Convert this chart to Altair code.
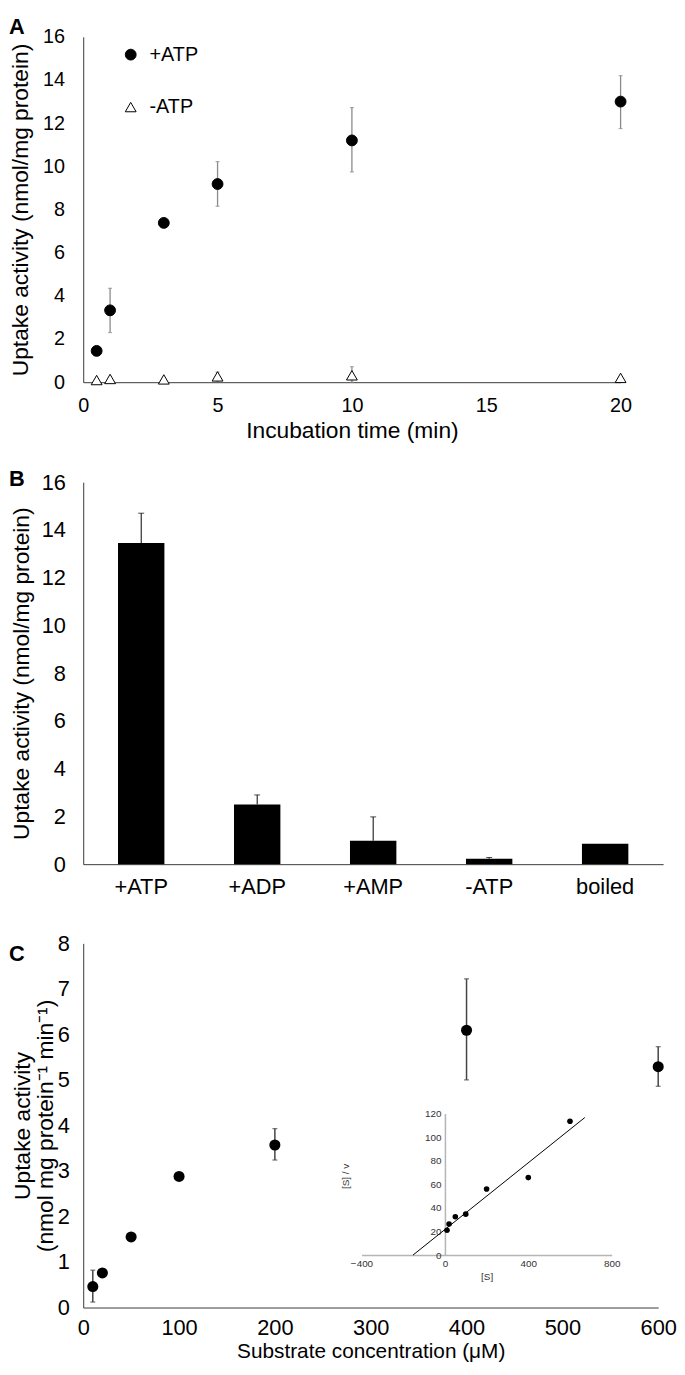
import altair as alt
import pandas as pd

FONT = "Liberation Sans"

# ---------------- Panel A data ----------------
time_min = [0.5, 1, 3, 5, 10, 20]
atp_plus = [1.45, 3.33, 7.38, 9.18, 11.2, 13.0]
atp_minus = [0.1, 0.15, 0.13, 0.27, 0.32, 0.2]
a_err_time = [1, 5, 10, 20, 5, 10]
a_err_low = [2.3, 8.15, 9.74, 11.75, 0.05, 0.0]
a_err_high = [4.35, 10.22, 12.72, 14.2, 0.47, 0.72]
a_series = ["+ATP", "-ATP"]

# ---------------- Panel B data ----------------
b_conditions = ["+ATP", "+ADP", "+AMP", "-ATP", "boiled"]
b_values = [13.45, 2.5, 0.98, 0.23, 0.86]
b_err_cond = ["+ATP", "+ADP", "+AMP", "-ATP"]
b_err_base = [13.45, 2.5, 0.98, 0.23]
b_err_top = [14.7, 2.9, 1.98, 0.28]

# ---------------- Panel C data ----------------
c_conc = [10, 20, 50, 100, 200, 400, 600]
c_rate = [0.46, 0.76, 1.55, 2.88, 3.57, 6.09, 5.29]
c_err_conc = [10, 200, 400, 600]
c_err_low = [0.12, 3.24, 5.0, 4.86]
c_err_high = [0.82, 3.93, 7.22, 5.73]

# Inset (Hanes-Woolf plot)
hw_s = [10, 20, 50, 100, 200, 400, 600]
hw_sv = [21.0, 26.3, 32.5, 34.7, 56.0, 65.7, 113.5]
fit_s = [-153, 671]
fit_sv = [0, 116.6]

panel_letters = ["A", "B", "C"]

AXC = "#3a3a3a"


def letter_layer(letter, ypos):
    return alt.Chart(pd.DataFrame({"letter": [letter]})).mark_text(
        align="left", baseline="top", fontSize=22, fontWeight="bold", color="black"
    ).encode(x=alt.value(-75), y=alt.value(ypos), text="letter:N")


# ================= Panel A =================
dfA = pd.DataFrame({
    "t": time_min * 2,
    "v": atp_plus + atp_minus,
    "series": [a_series[0]] * len(time_min) + [a_series[1]] * len(time_min),
})
dfAerr = pd.DataFrame({"t": a_err_time, "lo": a_err_low, "hi": a_err_high})

xA_scale = alt.Scale(domain=[0, 20], nice=False, zero=False)
yA_scale = alt.Scale(domain=[0, 16], nice=False)
xA_axis = alt.Axis(values=[0, 5, 10, 15, 20], title="Incubation time (min)", ticks=False,
                   grid=False, labelFontSize=20, titleFontSize=23, titleFontWeight="normal",
                   labelPadding=14, titlePadding=4, domainColor=AXC, labelColor="black",
                   titleColor="black", labelFlush=False)
yA_axis = alt.Axis(values=list(range(0, 17, 2)), title="Uptake activity (nmol/mg protein)",
                   ticks=False, grid=False, labelFontSize=20, titleFontSize=23,
                   titleFontWeight="normal", labelPadding=19, titlePadding=10,
                   domainColor=AXC, labelColor="black", titleColor="black", labelFlush=False)
xA = alt.X("t:Q", scale=xA_scale, axis=xA_axis)

errA = alt.Chart(dfAerr).mark_rule(color="#8a8a8a", strokeWidth=1.3).encode(
    x=xA, y=alt.Y("lo:Q", scale=yA_scale, axis=yA_axis), y2="hi:Q",
)
capA_lo = alt.Chart(dfAerr).mark_tick(color="#8a8a8a", orient="horizontal", size=4, thickness=1.2).encode(
    x=xA, y=alt.Y("lo:Q", scale=yA_scale, axis=yA_axis),
)
capA_hi = alt.Chart(dfAerr).mark_tick(color="#8a8a8a", orient="horizontal", size=4, thickness=1.2).encode(
    x=xA, y=alt.Y("hi:Q", scale=yA_scale, axis=yA_axis),
)
legA = alt.Legend(title=None, orient="none", legendX=38, legendY=8, labelFontSize=20,
                  rowPadding=33, labelOffset=9, symbolSize=120,
                  symbolStrokeWidth=1, padding=0, labelColor="black")
ptsA = alt.Chart(dfA).mark_point(filled=True, strokeWidth=1, opacity=1, size=120).encode(
    x=xA,
    y=alt.Y("v:Q", scale=yA_scale, axis=yA_axis),
    shape=alt.Shape("series:N", scale=alt.Scale(domain=a_series, range=["circle", "triangle-up"]), legend=legA),
    fill=alt.Fill("series:N", scale=alt.Scale(domain=a_series, range=["black", "white"]), legend=legA),
    stroke=alt.Stroke("series:N", scale=alt.Scale(domain=a_series, range=["black", "black"]), legend=legA),
)
chartA = alt.layer(errA, capA_lo, capA_hi, ptsA, letter_layer(panel_letters[0], -20)).properties(
    width=543, height=349,
)

# ================= Panel B =================
dfB = pd.DataFrame({"cond": b_conditions, "val": b_values})
dfBerr = pd.DataFrame({"cond": b_err_cond, "base": b_err_base, "top": b_err_top})
xB_scale = alt.Scale(domain=b_conditions, paddingInner=0.6, paddingOuter=0.3)
yB_scale = alt.Scale(domain=[0, 16], nice=False)
xB_axis = alt.Axis(title=None, labelAngle=0, ticks=False, grid=False, labelFontSize=22,
                   labelPadding=13, domainColor=AXC, labelColor="black")
yB_axis = alt.Axis(values=list(range(0, 17, 2)), title="Uptake activity (nmol/mg protein)",
                   ticks=False, grid=False, labelFontSize=22, titleFontSize=23,
                   titleFontWeight="normal", labelPadding=18, titlePadding=8,
                   domainColor=AXC, labelColor="black", titleColor="black", labelFlush=False)
xB = alt.X("cond:N", scale=xB_scale, axis=xB_axis, sort=b_conditions)
barsB = alt.Chart(dfB).mark_bar(color="black").encode(
    x=xB, y=alt.Y("val:Q", scale=yB_scale, axis=yB_axis),
)
errB = alt.Chart(dfBerr).mark_rule(color="black", strokeWidth=1).encode(
    x=xB, y=alt.Y("base:Q", scale=yB_scale, axis=yB_axis), y2="top:Q",
)
capB = alt.Chart(dfBerr).mark_tick(color="black", orient="horizontal", size=6, thickness=1).encode(
    x=xB, y=alt.Y("top:Q", scale=yB_scale, axis=yB_axis),
)
chartB = alt.layer(errB, capB, barsB, letter_layer(panel_letters[1], -13)).properties(
    width=586, height=386,
)

# ================= Panel C =================
dfC = pd.DataFrame({"s": c_conc, "v": c_rate})
dfCerr = pd.DataFrame({"s": c_err_conc, "lo": c_err_low, "hi": c_err_high})
xC_scale = alt.Scale(domain=[0, 600], nice=False)
yC_scale = alt.Scale(domain=[0, 8], nice=False)
xC_axis = alt.Axis(values=list(range(0, 601, 100)), title="Substrate concentration (\u03bcM)",
                   ticks=False, grid=False, labelFontSize=22, titleFontSize=21,
                   titleFontWeight="normal", labelPadding=10, titlePadding=2,
                   domainColor=AXC, labelColor="black", titleColor="black", labelFlush=False)
yC_axis = alt.Axis(values=list(range(0, 9)),
                   title=["Uptake activity", "(nmol mg protein\u207b\u00b9 min\u207b\u00b9)"],
                   ticks=False, grid=False, labelFontSize=22, titleFontSize=23,
                   titleFontWeight="normal", labelPadding=14, titlePadding=0, titleLineHeight=23,
                   domainColor=AXC, labelColor="black", titleColor="black", labelFlush=False)
xC = alt.X("s:Q", scale=xC_scale, axis=xC_axis)
errC = alt.Chart(dfCerr).mark_rule(color="#444444", strokeWidth=1.5).encode(
    x=xC, y=alt.Y("lo:Q", scale=yC_scale, axis=yC_axis), y2="hi:Q",
)
capC_lo = alt.Chart(dfCerr).mark_tick(color="#444444", orient="horizontal", size=5, thickness=1.3).encode(
    x=xC, y=alt.Y("lo:Q", scale=yC_scale, axis=yC_axis),
)
capC_hi = alt.Chart(dfCerr).mark_tick(color="#444444", orient="horizontal", size=5, thickness=1.3).encode(
    x=xC, y=alt.Y("hi:Q", scale=yC_scale, axis=yC_axis),
)
ptsC = alt.Chart(dfC).mark_circle(color="black", size=125, opacity=1).encode(
    x=xC, y=alt.Y("v:Q", scale=yC_scale, axis=yC_axis),
)
mainC = alt.layer(errC, capC_lo, capC_hi, ptsC, letter_layer(panel_letters[2], 1))

# inset
dfHW = pd.DataFrame({"s": hw_s, "sv": hw_sv})
dfFit = pd.DataFrame({"s": fit_s, "sv": fit_sv})
xI_scale = alt.Scale(domain=[-400, 800], range=[281.2, 534], nice=False, zero=False)
yI_scale = alt.Scale(domain=[0, 120], range=[315, 172], nice=False)
xI_axis = alt.Axis(orient="bottom", offset=-53, values=[-400, 0, 400, 800], title="[S]",
                   ticks=False, grid=False, labelFontSize=10, titleFontSize=10,
                   titleFontWeight="normal", labelPadding=4, titlePadding=3,
                   domainColor="#b5b5b5", domainWidth=1.5, labelColor="#333333",
                   titleColor="#333333", labelFlush=False)
yI_axis = alt.Axis(orient="left", offset=-365.5, values=list(range(0, 121, 20)), title="[S] / v",
                   ticks=False, grid=False, labelFontSize=10, titleFontSize=10,
                   titleFontWeight="normal", labelPadding=4, titleX=-95, titleY=235,
                   domainColor="#b5b5b5", domainWidth=1.5, labelColor="#333333",
                   titleColor="#333333", labelFlush=False)
xI = alt.X("s:Q", scale=xI_scale, axis=xI_axis)
yI = alt.Y("sv:Q", scale=yI_scale, axis=yI_axis)
fitI = alt.Chart(dfFit).mark_line(color="black", strokeWidth=1).encode(x=xI, y=yI)
ptsI = alt.Chart(dfHW).mark_circle(color="black", size=32, opacity=1).encode(x=xI, y=yI)
insetC = alt.layer(fitI, ptsI)

chartC = alt.layer(mainC, insetC).resolve_scale(x="independent", y="independent").properties(
    width=581, height=368,
)

chart = alt.vconcat(
    alt.vconcat(chartA, chartB, spacing=24),
    chartC,
    spacing=33,
).properties(
    padding={"left": 0, "top": 0, "right": 0, "bottom": 0},
).configure(font=FONT).configure_view(stroke="transparent")

chart.save("out.html", embed_options={"renderer": "svg", "actions": False})
